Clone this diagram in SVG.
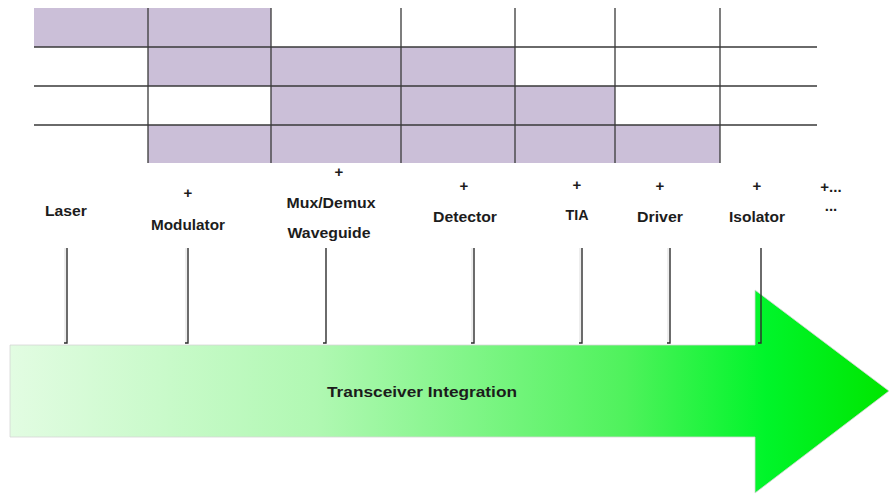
<svg xmlns="http://www.w3.org/2000/svg" width="889" height="494" viewBox="0 0 889 494">
  <defs>
    <linearGradient id="arrowFill" x1="10" y1="0" x2="889" y2="0" gradientUnits="userSpaceOnUse">
      <stop offset="0" stop-color="#e2fce2"/>
      <stop offset="0.35" stop-color="#b0f8b2"/>
      <stop offset="0.7" stop-color="#4ff25c"/>
      <stop offset="0.86" stop-color="#00f52a"/>
      <stop offset="1" stop-color="#00e600"/>
    </linearGradient>
  </defs>
  <style>
    .cell { fill: #cbbfd8; }
    .gl { stroke: #3a3a3a; stroke-width: 1.3; fill: none; }
    .lbl { font-family: "Liberation Sans", Arial, sans-serif; font-weight: bold; font-size: 15px; fill: #1c1c1c; text-anchor: middle; }
    .conn { stroke: #2e2e2e; stroke-width: 1.4; fill: none; }
    .shadow { stroke: #dcdcdc; stroke-width: 1; fill: none; }
  </style>

  <rect width="889" height="494" fill="#ffffff"/>

  <!-- roadmap grid -->
  <g id="grid">
    <!-- row 1 -->
    <rect class="cell" x="34" y="8" width="237" height="39"/>
    <!-- row 2 -->
    <rect class="cell" x="148" y="47" width="367" height="39"/>
    <!-- row 3 -->
    <rect class="cell" x="271" y="86" width="344" height="39"/>
    <!-- row 4 -->
    <rect class="cell" x="148" y="125" width="572" height="38"/>
    <!-- horizontal rules -->
    <path class="gl" d="M34 47 H817 M34 86 H817 M34 125 H817"/>
    <!-- vertical rules -->
    <path class="gl" d="M148 8 V163 M271 8 V163 M401 8 V163 M515 8 V163 M615 8 V163 M720 8 V163"/>
  </g>

  <!-- integration arrow -->
  <g id="arrow">
    <polygon points="10,345 755,345 755,290 889,391 755,493 755,437 10,437" fill="url(#arrowFill)" stroke="#d6d6d6" stroke-width="0.8"/>
    <text class="lbl" x="422" y="397" font-size="16.5" textLength="190" lengthAdjust="spacingAndGlyphs">Transceiver Integration</text>
  </g>

  <!-- component labels -->
  <g id="laser">
    <text class="lbl" x="66" y="216" textLength="42" lengthAdjust="spacingAndGlyphs">Laser</text>
  </g>
  <g id="modulator">
    <text class="lbl" x="188" y="198">+</text>
    <text class="lbl" x="188" y="230" textLength="74" lengthAdjust="spacingAndGlyphs">Modulator</text>
  </g>
  <g id="muxdemux">
    <text class="lbl" x="339" y="177">+</text>
    <text class="lbl" x="331" y="208" textLength="89" lengthAdjust="spacingAndGlyphs">Mux/Demux</text>
    <text class="lbl" x="329" y="238" textLength="83" lengthAdjust="spacingAndGlyphs">Waveguide</text>
  </g>
  <g id="detector">
    <text class="lbl" x="464" y="191">+</text>
    <text class="lbl" x="465" y="222" textLength="64" lengthAdjust="spacingAndGlyphs">Detector</text>
  </g>
  <g id="tia">
    <text class="lbl" x="577" y="190">+</text>
    <text class="lbl" x="577" y="220" textLength="23" lengthAdjust="spacingAndGlyphs">TIA</text>
  </g>
  <g id="driver">
    <text class="lbl" x="660" y="191">+</text>
    <text class="lbl" x="660" y="222" textLength="46" lengthAdjust="spacingAndGlyphs">Driver</text>
  </g>
  <g id="isolator">
    <text class="lbl" x="757" y="191">+</text>
    <text class="lbl" x="757" y="222" textLength="56" lengthAdjust="spacingAndGlyphs">Isolator</text>
  </g>
  <g id="more">
    <text class="lbl" x="831" y="192">+...</text>
    <text class="lbl" x="831" y="211">...</text>
  </g>

  <!-- connectors from labels down to the arrow -->
  <g id="connectors">
    <path class="shadow" d="M65 248 V343 M186 248 V343 M472 248 V343 M580 248 V343 M668 248 V343"/>
    <path class="conn" d="M67 248 V343 H64"/>
    <path class="conn" d="M188 248 V343 H185"/>
    <path class="conn" d="M326 248 V343 H323"/>
    <path class="conn" d="M474 248 V343 H471"/>
    <path class="conn" d="M582 248 V343 H579"/>
    <path class="conn" d="M670 248 V343 H667"/>
    <path class="conn" d="M761 248 V343 H758"/>
  </g>
</svg>
